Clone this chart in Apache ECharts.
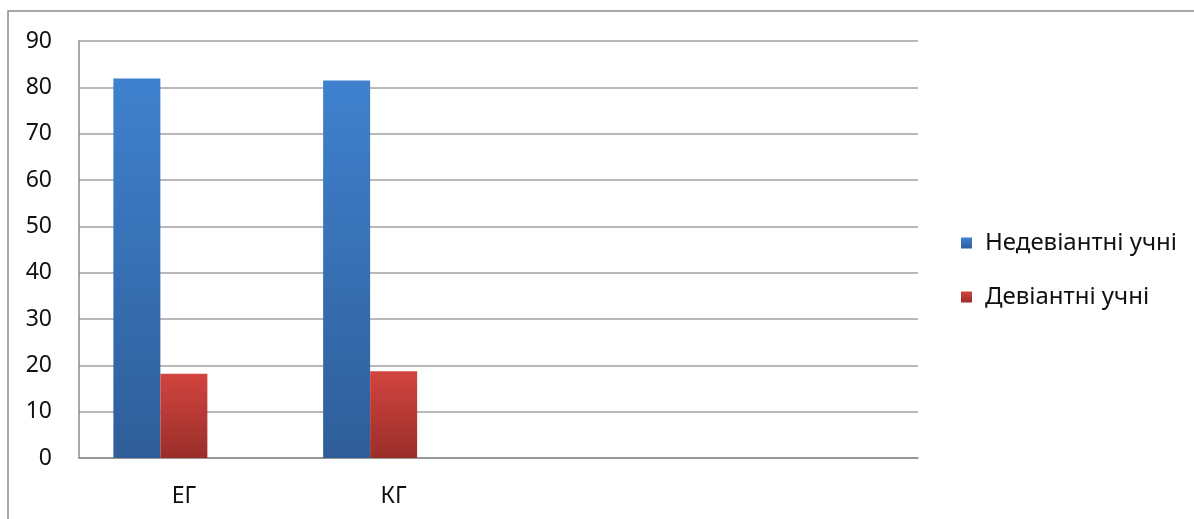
<!DOCTYPE html>
<html>
<head>
<meta charset="utf-8">
<script src="https://cdn.jsdelivr.net/npm/echarts@6/dist/echarts.min.js"></script>
<style>
html,body{margin:0;padding:0;background:#fff;}
#c{width:1194px;height:519px;}
</style>
</head>
<body>
<div id="c"></div>
<script>
const categories = ['ЕГ', 'КГ', '', ''];
const seriesNames = ['Недевіантні учні', 'Девіантні учні'];
const nonDeviant = [81.9, 81.5, null, null];
const deviant = [18.2, 18.7, null, null];
const emptySeries = [null, null, null, null];
const yTicks = { min: 0, max: 90, interval: 10 };

const chart = echarts.init(document.getElementById('c'));
const font = 'Noto Sans';
function grad(top, bottom) {
  return new echarts.graphic.LinearGradient(0, 0, 0, 1, [
    { offset: 0, color: top }, { offset: 1, color: bottom }
  ]);
}
chart.setOption({
  animation: false,
  backgroundColor: '#fff',
  graphic: [{
    type: 'rect',
    shape: { x: 8, y: 11, width: 1200, height: 520 },
    style: { fill: 'none', stroke: '#8c8c8c', lineWidth: 1.5 },
    silent: true, z: -1
  }],
  grid: { left: 79, right: 276, top: 41, bottom: 61, containLabel: false },
  legend: {
    orient: 'vertical',
    left: 961, top: 231,
    padding: 0,
    data: seriesNames,
    itemWidth: 11, itemHeight: 11, itemGap: 30,
    icon: 'rect',
    textStyle: { fontFamily: font, fontSize: 24, color: '#111', padding: [0, 0, 0, 8] }
  },
  xAxis: {
    type: 'category',
    data: categories,
    axisLine: { show: true, lineStyle: { color: '#8c8c8c', width: 1.5 } },
    axisTick: { show: false },
    axisLabel: { fontFamily: font, fontSize: 23, color: '#111', margin: 27 }
  },
  yAxis: {
    type: 'value',
    min: yTicks.min, max: yTicks.max, interval: yTicks.interval,
    axisLine: { show: true, lineStyle: { color: '#8c8c8c', width: 1.5 } },
    axisTick: { show: false },
    splitLine: { lineStyle: { color: '#a0a0a0', width: 1.5 } },
    axisLabel: { fontFamily: font, fontSize: 23, color: '#111', margin: 27 }
  },
  series: [
    { name: seriesNames[0], type: 'bar', data: nonDeviant, barWidth: 47, barGap: '0%',
      itemStyle: { color: grad('#3f81ce', '#2f5e99') } },
    { name: seriesNames[1], type: 'bar', data: deviant, barWidth: 47, barGap: '0%',
      itemStyle: { color: grad('#d2443f', '#9a2e2a') } },
    { name: 'empty', type: 'bar', data: emptySeries, barWidth: 47, barGap: '0%' }
  ],
  color: ['#3f81ce', '#cc3f3a', '#9bbb59']
});
</script>
</body>
</html>
